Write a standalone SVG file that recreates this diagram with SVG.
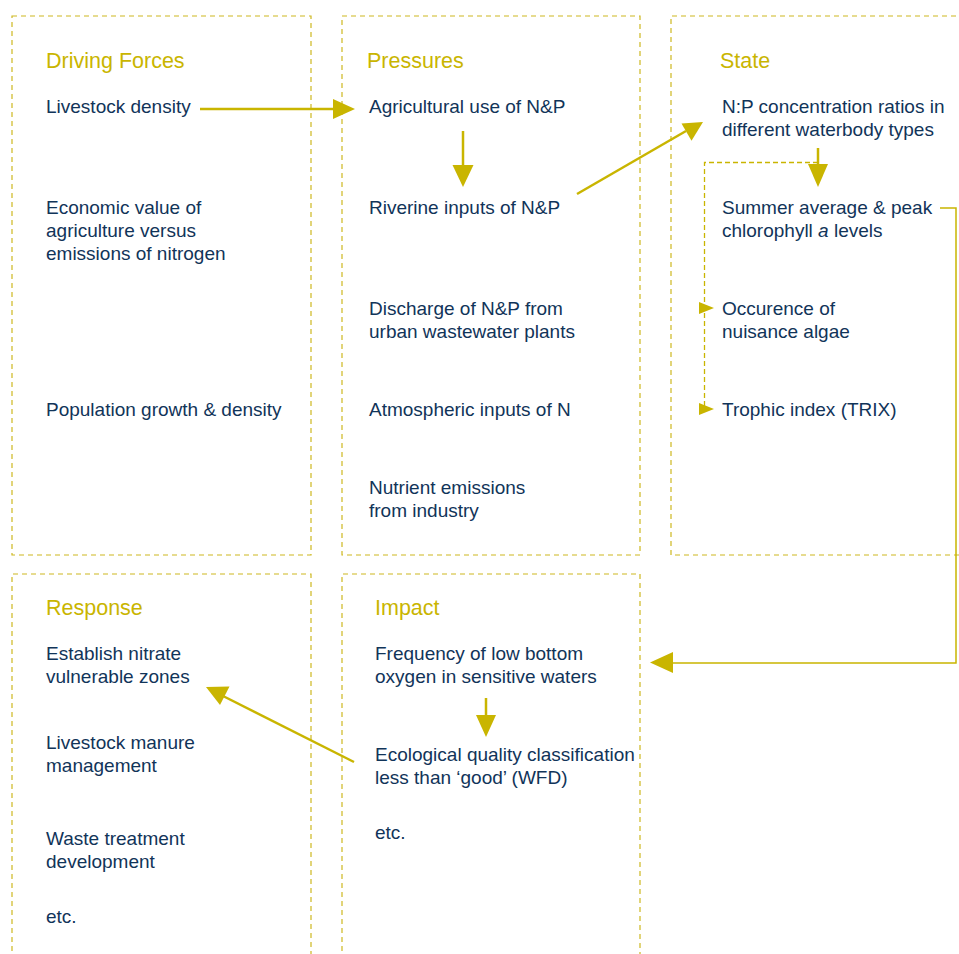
<svg xmlns="http://www.w3.org/2000/svg" width="959" height="954" viewBox="0 0 959 954">
  <style>
    .frame { fill: none; stroke: #CDB820; stroke-width: 1.2; stroke-dasharray: 5 4; }
    .title { font-family: "Liberation Sans", Arial, sans-serif; font-size: 21.5px; fill: #C9B500; }
    .item { font-family: "Liberation Sans", Arial, sans-serif; font-size: 19px; fill: #113459; }
    .link { fill: none; stroke: #C9B500; stroke-width: 2.5; }
    .thin { fill: none; stroke: #C9B500; stroke-width: 1.5; }
    .dash { fill: none; stroke: #C9B500; stroke-width: 1.3; stroke-dasharray: 5 3; }
    .head { fill: #C9B500; }
  </style>

  <rect width="959" height="954" fill="#ffffff"/>

  <!-- Driving Forces -->
  <g id="driving-forces">
    <rect class="frame" x="12" y="16" width="299" height="539"/>
    <text class="title" x="46" y="68">Driving Forces</text>
    <text class="item" x="46" y="113">Livestock density</text>
    <text class="item" x="46" y="214">Economic value of</text>
    <text class="item" x="46" y="237">agriculture versus</text>
    <text class="item" x="46" y="260">emissions of nitrogen</text>
    <text class="item" x="46" y="416">Population growth &amp; density</text>
  </g>

  <!-- Pressures -->
  <g id="pressures">
    <rect class="frame" x="342" y="16" width="298" height="539"/>
    <text class="title" x="367" y="68">Pressures</text>
    <text class="item" x="369" y="113">Agricultural use of N&amp;P</text>
    <text class="item" x="369" y="214">Riverine inputs of N&amp;P</text>
    <text class="item" x="369" y="315">Discharge of N&amp;P from</text>
    <text class="item" x="369" y="338">urban wastewater plants</text>
    <text class="item" x="369" y="416">Atmospheric inputs of N</text>
    <text class="item" x="369" y="494">Nutrient emissions</text>
    <text class="item" x="369" y="517">from industry</text>
  </g>

  <!-- State -->
  <g id="state">
    <path class="frame" d="M 965 16 H 671 V 555 H 965"/>
    <text class="title" x="720" y="68">State</text>
    <text class="item" x="722" y="113">N:P concentration ratios in</text>
    <text class="item" x="722" y="136">different waterbody types</text>
    <text class="item" x="722" y="214">Summer average &amp; peak</text>
    <text class="item" x="722" y="237">chlorophyll <tspan font-style="italic">a</tspan> levels</text>
    <text class="item" x="722" y="315">Occurence of</text>
    <text class="item" x="722" y="338">nuisance algae</text>
    <text class="item" x="722" y="416">Trophic index (TRIX)</text>
  </g>

  <!-- Response -->
  <g id="response">
    <path class="frame" d="M 12 960 V 574 H 311 V 960"/>
    <text class="title" x="46" y="615">Response</text>
    <text class="item" x="46" y="660">Establish nitrate</text>
    <text class="item" x="46" y="683">vulnerable zones</text>
    <text class="item" x="46" y="749">Livestock manure</text>
    <text class="item" x="46" y="772">management</text>
    <text class="item" x="46" y="845">Waste treatment</text>
    <text class="item" x="46" y="868">development</text>
    <text class="item" x="46" y="923">etc.</text>
  </g>

  <!-- Impact -->
  <g id="impact">
    <path class="frame" d="M 342 960 V 574 H 640 V 960"/>
    <text class="title" x="375" y="615">Impact</text>
    <text class="item" x="375" y="660">Frequency of low bottom</text>
    <text class="item" x="375" y="683">oxygen in sensitive waters</text>
    <text class="item" x="375" y="761">Ecological quality classification</text>
    <text class="item" x="375" y="784">less than ‘good’ (WFD)</text>
    <text class="item" x="375" y="839">etc.</text>
  </g>

  <!-- Connectors -->
  <g id="connectors">
    <!-- Livestock density to agricultural use -->
    <line class="link" x1="200" y1="109" x2="335" y2="109"/>
    <polygon class="head" points="355,109 333,99 333,119"/>

    <!-- Agricultural use to riverine inputs -->
    <line class="link" x1="463" y1="131" x2="463" y2="166"/>
    <polygon class="head" points="463,187 452.5,165 473.5,165"/>

    <!-- Riverine inputs to N:P ratios -->
    <line class="link" x1="577" y1="194" x2="686" y2="131"/>
    <polygon class="head" points="703,122 681.5,123.5 691.5,140.8"/>

    <!-- N:P ratios to chlorophyll -->
    <line class="link" x1="818" y1="148" x2="818" y2="166"/>
    <polygon class="head" points="818,187 808,164 828,164"/>

    <!-- Branch to algae and TRIX -->
    <path class="dash" d="M 818 162.5 H 704.5 V 409"/>
    <polygon class="head" points="714,308 699,302 699,314"/>
    <polygon class="head" points="714,409 699,403 699,415"/>

    <!-- Chlorophyll to low bottom oxygen -->
    <path class="thin" d="M 940 208 H 956 V 663 H 672"/>
    <polygon class="head" points="650,662.5 673,652 673,673"/>

    <!-- Low oxygen to ecological quality -->
    <line class="link" x1="486" y1="698" x2="486" y2="716"/>
    <polygon class="head" points="486,737 476,715 496,715"/>

    <!-- Ecological quality to nitrate zones -->
    <line class="link" x1="354" y1="762" x2="223" y2="696"/>
    <polygon class="head" points="206,687 220,705 229.5,686.5"/>
  </g>
</svg>
